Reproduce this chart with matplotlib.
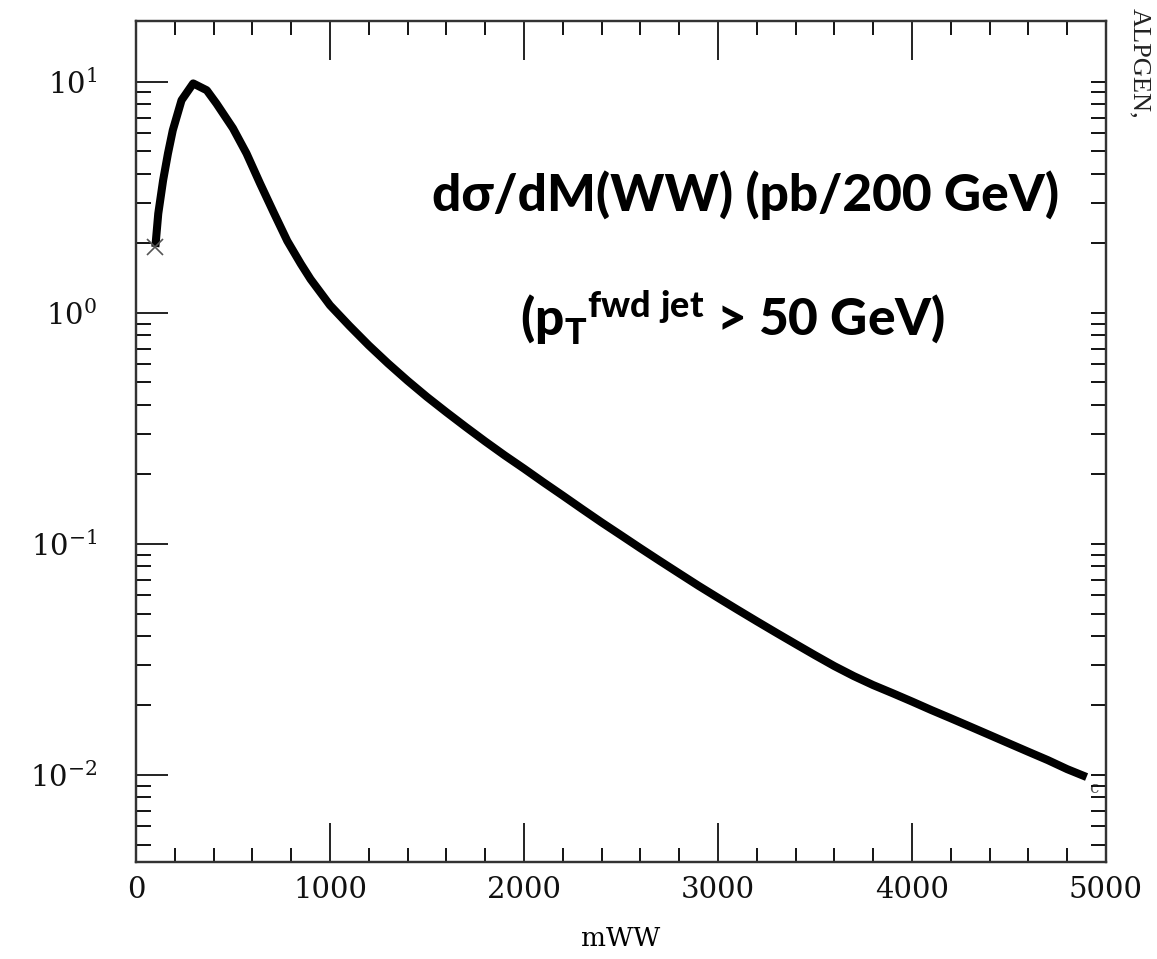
import matplotlib.pyplot as plt
from matplotlib.ticker import MultipleLocator, LogLocator, NullFormatter, FixedLocator

plt.rcParams['mathtext.fontset'] = 'dejavuserif'
plt.rcParams['mathtext.rm'] = 'Lato:black'
plt.rcParams['mathtext.it'] = 'Lato:black'
plt.rcParams['mathtext.bf'] = 'Lato:black'

# dsigma/dM(WW) (pb / 200 GeV)
m_ww = [100, 115, 140, 165, 190, 235, 295, 365, 415, 500, 570, 640, 710, 780, 850,
        900, 1000, 1100, 1200, 1300, 1400, 1500, 1600, 1700, 1800, 1900,
        2000, 2100, 2200, 2300, 2400, 2500, 2600, 2700, 2800, 2900,
        3000, 3100, 3200, 3300, 3400, 3500, 3600, 3700, 3800, 3900,
        4000, 4100, 4200, 4300, 4400, 4500, 4600, 4700, 4800, 4900]
dsig = [1.93, 2.69, 3.75, 4.9, 6.18, 8.33, 9.85, 9.2, 8.06, 6.3, 4.9, 3.63, 2.72, 2.05, 1.63,
        1.40, 1.08, 0.88, 0.724, 0.604, 0.509, 0.433, 0.372, 0.321, 0.278, 0.242,
        0.212, 0.185, 0.162, 0.1416, 0.124, 0.1091, 0.0959, 0.0845, 0.0746, 0.0659,
        0.0585, 0.0520, 0.0463, 0.0413, 0.0369, 0.0330, 0.0296, 0.0268, 0.0245, 0.0226,
        0.0208, 0.0191, 0.0176, 0.0162, 0.0149, 0.0137, 0.0126, 0.0116, 0.0106, 0.0098]

x_ticks = [0, 1000, 2000, 3000, 4000, 5000]
y_ticks = [1e-2, 1e-1, 1e0, 1e1]
y_labels = [r'$10^{-2}$', r'$10^{-1}$', r'$10^{0}$', r'$10^{1}$']

fig = plt.figure(figsize=(11.57, 9.59), dpi=100)
ax = fig.add_axes([0.1175, 0.1011, 0.8384, 0.8773])

ax.plot(m_ww, dsig, color='black', lw=5.8, solid_capstyle='butt', solid_joinstyle='round')
ax.plot(m_ww[0], dsig[0], marker='x', ms=11, mew=1.2, color='#555555', ls='none')
ax.text(4935, 0.0087, 'c', fontfamily='DejaVu Serif', fontsize=12, color='#555555',
        ha='center', va='center')

ax.set_yscale('log')
ax.set_xlim(0, 5000)
ax.set_ylim(0.0042, 18.4)

ax.xaxis.set_major_locator(FixedLocator(x_ticks))
ax.xaxis.set_minor_locator(MultipleLocator(200))
ax.yaxis.set_major_locator(FixedLocator(y_ticks))
ax.yaxis.set_minor_locator(LogLocator(base=10, subs=range(2, 10), numticks=20))
ax.yaxis.set_minor_formatter(NullFormatter())
ax.set_xticklabels([str(v) for v in x_ticks])
ax.set_yticklabels(y_labels)

ax.tick_params(axis='x', which='major', direction='in', top=True, length=28, width=1.3,
               pad=10, labelsize=21, colors='#111111')
ax.tick_params(axis='x', which='minor', direction='in', top=True, length=10, width=1.3)
ax.tick_params(axis='y', which='major', direction='in', right=False, length=23, width=1.3,
               pad=28, labelsize=21, colors='#111111')
ax.tick_params(axis='y', which='minor', direction='in', right=False, length=11, width=1.3)
for lbl in ax.get_xticklabels():
    lbl.set_fontfamily('DejaVu Serif')

# right side ticks are all short
ax2 = ax.twinx()
ax2.set_yscale('log')
ax2.set_ylim(ax.get_ylim())
ax2.yaxis.set_major_locator(FixedLocator(y_ticks))
ax2.yaxis.set_minor_locator(LogLocator(base=10, subs=range(2, 10), numticks=20))
ax2.tick_params(axis='y', which='both', direction='in', length=11, width=1.3,
                labelright=False)

for a in (ax, ax2):
    for s in a.spines.values():
        s.set_linewidth(1.6)
        s.set_color('#333333')

ax.set_xlabel('mWW', fontfamily='DejaVu Serif', fontsize=19, labelpad=16)

fig.text(0.644, 0.797, 'd\u03c3/dM(WW) (pb/200 GeV)', fontfamily='Lato',
         fontweight='black', fontsize=37, ha='center', va='center')
fig.text(0.633, 0.668, r'($\mathrm{p_T{}^{fwd\ jet}}$ > 50 GeV)', fontfamily='Lato',
         fontweight='black', fontsize=37, ha='center', va='center', math_fontfamily='custom')

fig.text(0.985, 0.992, 'ALPGEN,', fontfamily='Liberation Serif', fontsize=19,
         rotation=270, ha='center', va='top', color='#222222')

fig.savefig('out.png', dpi=100)
